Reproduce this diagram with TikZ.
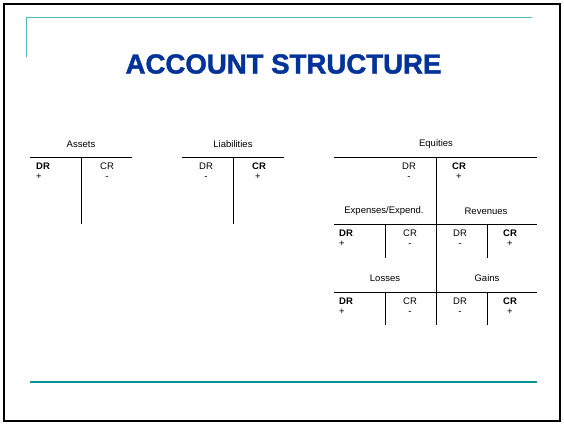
\documentclass[tikz,border=0pt]{standalone}
\usepackage{fontspec}
\setmainfont{Liberation Sans}
\newfontfamily\titlefont{Liberation Sans}[BoldFeatures={FakeBold=1.5}]
\definecolor{titleblue}{RGB}{0,51,153}
\definecolor{lightteal}{RGB}{80,185,185}
\definecolor{darkteal}{RGB}{0,150,150}
\begin{document}
\begin{tikzpicture}[x=1pt,y=-1pt,
  lbl/.style={inner sep=0pt,font=\fontsize{9.5}{11}\selectfont},
  bl/.style={inner sep=0pt,font=\fontsize{9.5}{11}\selectfont\bfseries,anchor=west},
  tline/.style={line width=0.9pt,black}]
\useasboundingbox (0,0) rectangle (564,424);
\fill[white] (0,0) rectangle (564,424);
\draw[line width=2pt] (4,4) rectangle (560,421);
% decorations
\draw[lightteal,line width=1pt] (26,57) -- (26,17) -- (532,17);
\draw[darkteal,line width=2pt] (30,381.5) -- (537,381.5);
\node[inner sep=0pt,font=\titlefont\fontsize{27.6}{30}\selectfont\bfseries,text=titleblue] (title) at (283.5,64) {ACCOUNT STRUCTURE};
% Assets
\node[lbl] (aL) at (81,144) {Assets};
\draw[tline] (30,157) -- (132,157);
\draw[tline] (81,157) -- (81,224);
\node[bl] (aDR) at (36,166) {DR};
\node[lbl] (aP) at (39,177) {+};
\node[lbl] (aCR) at (107,166) {CR};
\node[lbl] (aM) at (107,178) {-};
% Liabilities
\node[lbl] (lL) at (233,144) {Liabilities};
\draw[tline] (182,157) -- (284,157);
\draw[tline] (233,157) -- (233,224);
\node[lbl] (lDR) at (206,166) {DR};
\node[lbl] (lM) at (206,178) {-};
\node[bl] (lCR) at (252,166) {CR};
\node[lbl] (lP) at (258,177) {+};
% Equities
\node[lbl] (eL) at (436,144) {Equities};
\draw[tline] (334,157) -- (537,157);
\draw[tline] (436,157) -- (436,325);
\node[lbl] (eDR) at (409,166) {DR};
\node[lbl] (eM) at (409,178) {-};
\node[bl] (eCR) at (452,166) {CR};
\node[lbl] (eP) at (459,177) {+};
% Expenses / Revenues
\node[lbl] (xL) at (384,211) {Expenses/Expend.};
\node[lbl] (rL) at (486,211) {Revenues};
\draw[tline] (334,224) -- (537,224);
\draw[tline] (385,224) -- (385,258);
\draw[tline] (487,224) -- (487,258);
\node[bl] (xDR) at (339,233) {DR};
\node[lbl] (xP) at (342,244) {+};
\node[lbl] (xCR) at (410,233) {CR};
\node[lbl] (xM) at (410,245) {-};
\node[lbl] (rDR) at (460,233) {DR};
\node[lbl] (rM) at (460,245) {-};
\node[bl] (rCR) at (503,233) {CR};
\node[lbl] (rP) at (510,244) {+};
% Losses / Gains
\node[lbl] (sL) at (385,278) {Losses};
\node[lbl] (gL) at (487,278) {Gains};
\draw[tline] (334,292) -- (537,292);
\draw[tline] (385,292) -- (385,325);
\draw[tline] (487,292) -- (487,325);
\node[bl] (sDR) at (339,301) {DR};
\node[lbl] (sP) at (342,312) {+};
\node[lbl] (sCR) at (410,301) {CR};
\node[lbl] (sM) at (410,313) {-};
\node[lbl] (gDR) at (460,301) {DR};
\node[lbl] (gM) at (460,313) {-};
\node[bl] (gCR) at (503,301) {CR};
\node[lbl] (gP) at (510,312) {+};
\end{tikzpicture}
\end{document}
